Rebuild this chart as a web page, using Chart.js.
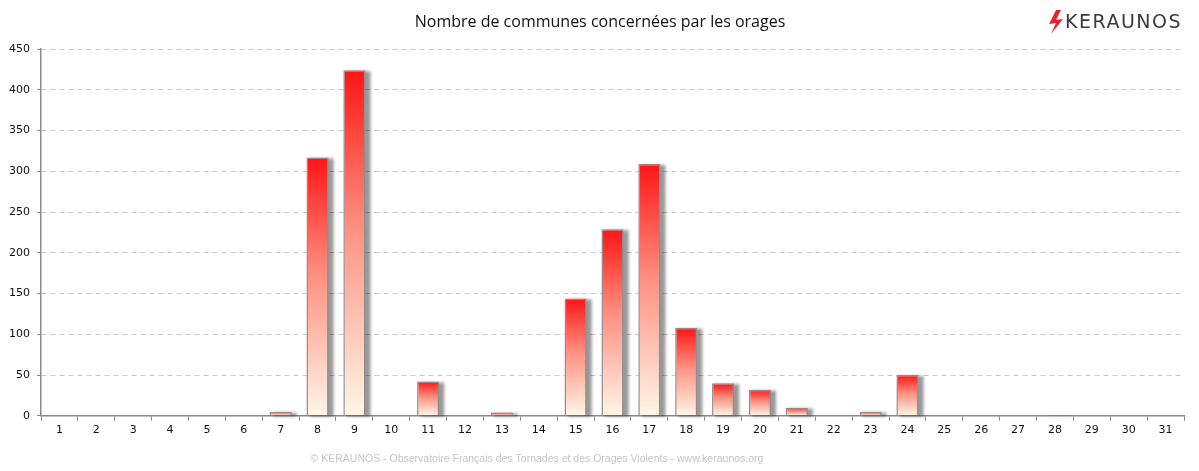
<!DOCTYPE html>
<html>
<head>
<meta charset="utf-8">
<script src="https://cdn.jsdelivr.net/npm/chart.js@4"></script>
<style>
  html, body { margin: 0; padding: 0; background: #fff; }
  #wrap { width: 1199px; height: 471px; position: relative; }
</style>
</head>
<body>
<div id="wrap"><canvas id="chart"></canvas></div>
<script>
// ── Data ──────────────────────────────────────────────────────────────────────
const days = ['1','2','3','4','5','6','7','8','9','10','11','12','13','14','15','16',
              '17','18','19','20','21','22','23','24','25','26','27','28','29','30','31'];
const communes = [0, 0, 0, 0, 0, 0, 5, 317, 424, 0, 42, 0, 4, 0, 144, 229,
                  309, 108, 40, 32, 10, 0, 5, 50, 0, 0, 0, 1, 0, 0, 0];
const yTicks = [0, 50, 100, 150, 200, 250, 300, 350, 400, 450];

const titleText  = 'Nombre de communes concernées par les orages';
const footerText = '© KERAUNOS - Observatoire Français des Tornades et des Orages Violents - www.keraunos.org';

// ── Per-bar gradient red → cream ──────────────────────────────────────────────
function barGradient(c) {
  const chart = c.chart;
  if (!chart.chartArea || c.parsed == null) return '#ff2020';
  const y = chart.scales.y;
  const top = y.getPixelForValue(c.parsed.y);
  const base = y.getPixelForValue(0);
  if (base - top < 1) return '#ff9090';
  const g = chart.ctx.createLinearGradient(0, top, 0, base);
  g.addColorStop(0, '#ff1515');
  g.addColorStop(0.45, '#ff8f80');
  g.addColorStop(1, '#fff6e6');
  return g;
}

// ── Plugins: bar shadow, texts, logo ─────────────────────────────────────────
// the bar element clips its own drawing, so the shadow is painted beforehand
const shadowPlugin = {
  id: 'barShadow',
  beforeDatasetsDraw(chart) {
    const ctx = chart.ctx;
    const meta = chart.getDatasetMeta(0);
    ctx.save();
    ctx.fillStyle = 'rgba(0,0,0,0.4)';
    ctx.filter = 'blur(1.5px)';
    meta.data.forEach(bar => {
      const p = bar.getProps(['x', 'y', 'base', 'width'], true);
      const left = p.x - p.width / 2;
      ctx.fillRect(left + 3, p.y + 1, p.width + 2, p.base - p.y);
    });
    ctx.restore();
  }
};

const textPlugin = {
  id: 'texts',
  afterDraw(chart) {
    const ctx = chart.ctx;
    ctx.save();
    ctx.textBaseline = 'middle';
    ctx.textAlign = 'center';

    ctx.fillStyle = '#111';
    ctx.font = '16px "Open Sans", "Liberation Sans", sans-serif';
    ctx.fillText(titleText, 600, 22);

    ctx.fillStyle = '#c4c4c4';
    ctx.font = '10.5px "Liberation Sans", sans-serif';
    ctx.fillText(footerText, 537, 459);

    // logo
    ctx.fillStyle = '#e8232a';
    ctx.beginPath();
    ctx.moveTo(1056, 10);
    ctx.lineTo(1049, 24);
    ctx.lineTo(1056, 23);
    ctx.lineTo(1051, 34);
    ctx.lineTo(1063, 19);
    ctx.lineTo(1056, 20);
    ctx.lineTo(1061, 10);
    ctx.closePath();
    ctx.fill();

    ctx.textAlign = 'left';
    ctx.fillStyle = '#3a3a3a';
    ctx.letterSpacing = '1.5px';
    ctx.font = '19px "DejaVu Sans", sans-serif';
    ctx.fillText('KERAUNOS', 1065, 23);
    ctx.restore();
  }
};

// ── Chart ─────────────────────────────────────────────────────────────────────
new Chart(document.getElementById('chart'), {
  type: 'bar',
  data: {
    labels: days,
    datasets: [{
      data: communes,
      backgroundColor: barGradient,
      borderColor: '#958a8a',
      borderWidth: 1.5,
      borderSkipped: 'bottom',
      barPercentage: 0.6,
      categoryPercentage: 1.0,
    }]
  },
  options: {
    responsive: true,
    maintainAspectRatio: false,
    animation: false,
    layout: { padding: { top: 49, right: 15, bottom: 31, left: 0 } },
    plugins: {
      legend: { display: false },
      tooltip: { enabled: false },
      title: { display: false },
    },
    scales: {
      x: {
        offset: true,
        grid: {
          offset: true,
          drawOnChartArea: false,
          drawTicks: true,
          tickLength: 5,
          color: '#8a8a8a',
        },
        border: { color: '#8a8a8a', width: 1.5 },
        ticks: {
          color: '#111',
          font: { family: '"DejaVu Sans", sans-serif', size: 11 },
          padding: 3,
          maxRotation: 0,
          autoSkip: false,
        },
      },
      y: {
        min: 0,
        max: 450,
        afterBuildTicks(scale) {
          scale.ticks = yTicks.map(v => ({ value: v }));
        },
        afterFit(scale) { scale.width = 41; },
        grid: {
          color: '#c8c8c8',
          drawTicks: true,
          tickLength: 4,
          tickColor: '#8a8a8a',
        },
        border: { color: '#8a8a8a', width: 1.5, dash: [5, 4] },
        ticks: {
          color: '#111',
          font: { family: '"DejaVu Sans", sans-serif', size: 11 },
          padding: 7,
        },
      }
    }
  },
  plugins: [shadowPlugin, textPlugin]
});
</script>
</body>
</html>
